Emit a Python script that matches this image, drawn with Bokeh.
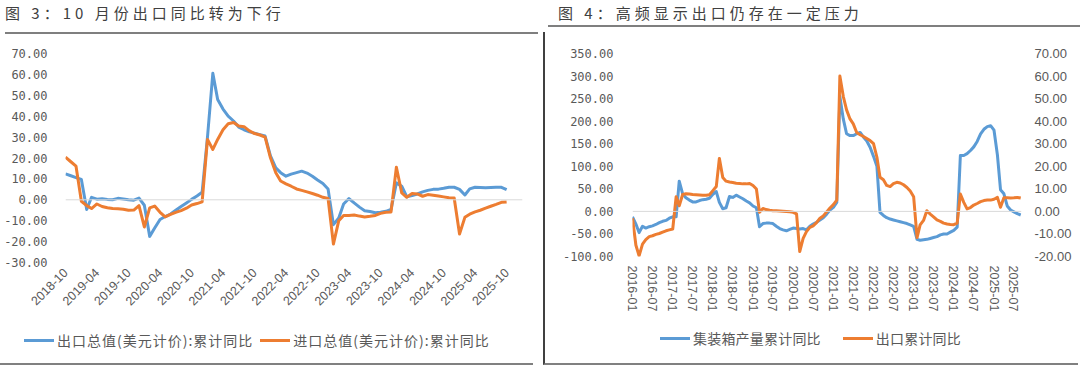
import datetime as dt
from math import pi
from bokeh.plotting import figure
from bokeh.models import (Range1d, LinearAxis, FixedTicker, SingleIntervalTicker,
                          DatetimeTickFormatter, NumeralTickFormatter, Span, Div,
                          ColumnDataSource)
from bokeh.layouts import row, column
from bokeh.embed import file_html
from bokeh.resources import INLINE

# ---------------- data: figure 3 (monthly, 2018-10 .. 2025-10) ----------------
fig3_start = (2018, 10)
export_value_yoy = [
    12.4, 11.5, 10.6, 9.7, -4.6, 1.2, 0.3, 0.5, 0.2, 0.0,
    0.7, 0.4, 0.0, -0.2, 0.8, -2.6, -17.5, -13.5, -9.4, -8.0,
    -6.8, -5.0, -3.2, -1.5, 0.2, 1.8, 3.6, 30.0, 60.5, 48.0,
    43.4, 40.0, 37.7, 34.8, 33.5, 32.5, 31.9, 31.2, 30.5, 21.0,
    15.3, 13.0, 11.3, 12.3, 13.0, 13.7, 12.8, 11.3, 9.5, 7.8,
    5.2, -11.9, -8.7, -2.0, 0.6, -1.5, -3.5, -5.2, -5.6, -6.2,
    -6.0, -5.5, -4.6, 8.1, 6.5, 1.5, 2.0, 2.8, 3.8, 4.5,
    5.0, 5.1, 5.5, 6.0, 6.0, 5.0, 2.3, 5.2, 6.0, 5.9,
    5.8, 5.9, 6.0, 6.0, 4.9,
]
import_value_yoy = [
    20.4, 18.2, 16.1, -0.7, -2.8, -4.2, -2.0, -3.2, -3.8, -4.2,
    -4.3, -4.5, -5.0, -4.9, -2.8, -13.0, -3.9, -3.0, -6.0, -8.2,
    -7.0, -6.0, -5.2, -4.0, -2.5, -1.8, -1.0, 28.9, 24.1, 28.9,
    33.5, 36.4, 37.0, 35.3, 35.0, 33.0, 31.7, 31.0, 30.0, 20.1,
    12.9, 9.0, 7.6, 6.5, 5.2, 4.5, 3.8, 3.0, 2.2, 1.2,
    0.6, -21.2, -10.0, -7.5, -7.5, -7.3, -7.8, -8.2, -7.9, -7.5,
    -6.5, -6.0, -5.8, 15.6, 3.3, 1.2, 3.0, 2.8, 1.7, 2.5,
    2.2, 1.8, 1.4, 1.0, 0.9, -16.4, -8.4, -6.9, -5.8, -5.0,
    -4.0, -3.1, -2.2, -1.2, -1.0,
]
fig3_tick_labels = ["2018-10", "2019-04", "2019-10", "2020-04", "2020-10", "2021-04",
                    "2021-10", "2022-04", "2022-10", "2023-04", "2023-10", "2024-04",
                    "2024-10", "2025-04", "2025-10"]
fig3_names = ["出口总值(美元计价):累计同比", "进口总值(美元计价):累计同比"]

# ---------------- data: figure 4 (monthly, 2016-01 .. 2025-09) ----------------
fig4_start = (2016, 1)
container_output_yoy = [
    -12, -28, -47, -33, -37, -34, -32, -29, -25, -22,
    -20, -15, -12, -12, 67, 39, 30, 25, 21, 21,
    24, 26, 27, 29, 38, 44, 20, 6, 8, 33,
    31, 36, 32, 28, 23, 19, 12, 8, -34, -27,
    -26, -26, -27, -33, -38, -41, -43, -40, -37, -38,
    -39, -38, -41, -33, -28, -24, -19, -14, -6, 3,
    9, 20, 255, 205, 172, 168, 168, 172, 175, 165,
    156, 142, 122, 100, -2, -9, -14, -17, -19, -21,
    -23, -25, -27, -30, -33, -62, -64, -63, -62, -60,
    -58, -56, -52, -50, -50, -46, -42, -35, 124, 124,
    128, 135, 143, 155, 172, 182, 188, 190, 180, 125,
    48, 39, 12, 3, -1, -5, -8,
]
export_cum_yoy = [
    -3, -15, -19.7, -14.5, -12.5, -11.2, -10.8, -10.2, -9.8, -9.2,
    -8.6, -8.2, -7.8, 6.5, 2.5, 7.5, 7.8, 7.7, 7.5, 7.4,
    7.3, 7.2, 7.2, 7.4, 9.2, 11, 23.5, 15, 13.4, 13,
    12.8, 12.5, 12.4, 12.2, 12.2, 12.4, 11.5, 9.9, -0.4, 1.3,
    0.8, 0.5, 0.3, 0.3, 0.2, 0.1, 0, -0.2, -0.4, -1.1,
    -17.8, -12, -9, -7.1, -6.4, -5, -3, -2, -0.2, 1.5,
    3, 5, 60, 51, 45, 41, 38.8, 35, 34, 33.2,
    32.3, 31.4, 30, 24, 15.1, 14, 11.5, 11, 12.3, 12.9,
    12.6, 11.8, 10.6, 9, 6.5, -11.6, -6, -4, 0.3, -1.2,
    -2.4, -3.8, -4.4, -5.2, -5.6, -5.8, -5.9, -5.2, 7.7, 4,
    1.1, 1.7, 2.8, 3.5, 4.3, 4.8, 5, 5, 5.4, 6.2,
    1.8, 6.0, 6.0, 5.9, 6.0, 6.2, 5.9,
]
fig4_tick_labels = ["2016-01", "2016-07", "2017-01", "2017-07", "2018-01", "2018-07",
                    "2019-01", "2019-07", "2020-01", "2020-07", "2021-01", "2021-07",
                    "2022-01", "2022-07", "2023-01", "2023-07", "2024-01", "2024-07",
                    "2025-01", "2025-07"]
fig4_names = ["集装箱产量累计同比", "出口累计同比"]

titles = ["图 3：10 月份出口同比转为下行", "图 4：高频显示出口仍存在一定压力"]

BLUE = "#5B9BD5"
ORANGE = "#ED7D31"
TICK_COLOR = "#595959"
CJK = "Noto Sans CJK SC"

EPOCH = dt.datetime(1970, 1, 1)


def months(start, n):
    y, m = start
    return [dt.datetime(y + (m - 1 + k) // 12, (m - 1 + k) % 12 + 1, 1) for k in range(n)]


def to_ms(label):
    d = dt.datetime.strptime(label, "%Y-%m")
    return (d - EPOCH).total_seconds() * 1000.0


def style_common(p):
    p.outline_line_color = None
    p.xgrid.visible = False
    p.ygrid.visible = False
    p.background_fill_color = None
    p.border_fill_color = None
    p.add_layout(Span(location=0, dimension="width", line_color="#D9D9D9", line_width=1))


def style_axis(ax, font, size, standoff):
    ax.axis_line_color = None
    ax.major_tick_line_color = None
    ax.minor_tick_line_color = None
    ax.major_tick_out = 0
    ax.major_tick_in = 0
    ax.minor_tick_out = 0
    ax.major_label_text_font = font
    ax.major_label_text_font_size = size
    ax.major_label_text_color = TICK_COLOR
    ax.major_label_standoff = standoff


def legend_div(names, colors, gap, pad_left, pad_top, letter_sp, width, height, extra_styles):
    parts = []
    for name, c in zip(names, colors):
        parts.append(
            f'<span style="display:block;flex:none;width:30px;height:3px;background:{c};'
            f'margin-right:3px"></span>'
            f'<span style="display:block;flex:none;line-height:16px;letter-spacing:{letter_sp}px">{name}</span>')
    sep = f'<span style="display:block;flex:none;width:{gap}px;height:1px"></span>'
    html = (f'<div style="padding-top:{pad_top}px;padding-left:{pad_left}px;margin:0">'
            f'<div style="display:flex;align-items:center;height:16px;margin:0;'
            f'font-family:\'{CJK}\';font-size:14px;color:{TICK_COLOR};white-space:nowrap">'
            + sep.join(parts) + '</div></div>')
    return Div(text=html, width=width, height=height, margin=0, styles=extra_styles)


fmt_month = DatetimeTickFormatter(days="%Y-%m", months="%Y-%m", years="%Y-%m")

# ---------------- figure 3 ----------------
d3 = months(fig3_start, len(export_value_yoy))
src3 = ColumnDataSource(dict(date=d3, exp=export_value_yoy, imp=import_value_yoy))

p1 = figure(width=533, height=283, x_axis_type="datetime",
            x_range=Range1d(dt.datetime(2018, 10, 1), dt.datetime(2026, 1, 1)),
            y_range=Range1d(-30, 70),
            output_backend="svg", toolbar_location=None,
            min_border_left=65, min_border_right=11, min_border_top=14, min_border_bottom=60)
style_common(p1)
r1 = p1.line("date", "exp", source=src3, line_color=BLUE, line_width=3, line_join="round")
r2 = p1.line("date", "imp", source=src3, line_color=ORANGE, line_width=3, line_join="round")

p1.yaxis.ticker = SingleIntervalTicker(interval=10, num_minor_ticks=0)
p1.yaxis.formatter = NumeralTickFormatter(format="0.00")
style_axis(p1.yaxis[0], "DejaVu Sans Mono", "12px", 18)
p1.xaxis.ticker = FixedTicker(ticks=[to_ms(s) for s in fig3_tick_labels])
p1.xaxis.formatter = fmt_month
p1.xaxis.major_label_orientation = pi / 4
style_axis(p1.xaxis[0], "Liberation Sans", "12.5px", 8)

leg1 = legend_div(fig3_names, [BLUE, ORANGE], 7, 24, 10, 1, 533, 43,
                  {"border-bottom": "2px solid #808080"})

# ---------------- figure 4 ----------------
d4 = months(fig4_start, len(container_output_yoy))
src4 = ColumnDataSource(dict(date=d4, cont=container_output_yoy, exp=export_cum_yoy))

p2 = figure(width=535, height=290, x_axis_type="datetime",
            x_range=Range1d(dt.datetime(2016, 1, 1), dt.datetime(2025, 9, 8)),
            y_range=Range1d(-100, 350),
            output_backend="svg", toolbar_location=None,
            min_border_left=87, min_border_right=59, min_border_top=21, min_border_bottom=66)
p2.extra_y_ranges = {"right": Range1d(-20, 70)}
style_common(p2)
r3 = p2.line("date", "cont", source=src4, line_color=BLUE, line_width=3, line_join="round")
r4 = p2.line("date", "exp", source=src4, line_color=ORANGE, line_width=3, line_join="round",
             y_range_name="right")

p2.yaxis.ticker = SingleIntervalTicker(interval=50, num_minor_ticks=0)
p2.yaxis.formatter = NumeralTickFormatter(format="0.00")
style_axis(p2.yaxis[0], "DejaVu Sans Mono", "12px", 19)

ax_r = LinearAxis(y_range_name="right",
                  ticker=SingleIntervalTicker(interval=10, num_minor_ticks=0),
                  formatter=NumeralTickFormatter(format="0.00"))
style_axis(ax_r, "Liberation Sans", "13px", 13)
p2.add_layout(ax_r, "right")

p2.xaxis.ticker = FixedTicker(ticks=[to_ms(s) for s in fig4_tick_labels])
p2.xaxis.formatter = fmt_month
p2.xaxis.major_label_orientation = "vertical"
style_axis(p2.xaxis[0], "Liberation Sans", "12.5px", 9)
p2.styles = {"border-left": "2px solid #404040"}

leg2 = legend_div(fig4_names, [BLUE, ORANGE], 22, 115, 8, 0.2, 535, 43,
                  {"border-left": "2px solid #404040", "border-bottom": "2px solid #808080"})

# ---------------- titles ----------------
title_style = {"font-family": CJK, "font-size": "15px", "letter-spacing": "4px",
               "color": "#404040", "line-height": "15px"}
t1 = Div(text=titles[0], width=533, height=29,
         styles=dict(title_style, **{"border-bottom": "2px solid #7F7F7F"}))
t2 = Div(text=titles[1], width=535, height=22,
         styles=dict(title_style, **{"border-bottom": "2px solid #7F7F7F",
                                     "padding-left": "10px"}))

layout = row(column(t1, p1, leg1, spacing=0), column(t2, p2, leg2, spacing=0), spacing=0)

with open("out.html", "w") as f:
    f.write(file_html(layout, INLINE))
